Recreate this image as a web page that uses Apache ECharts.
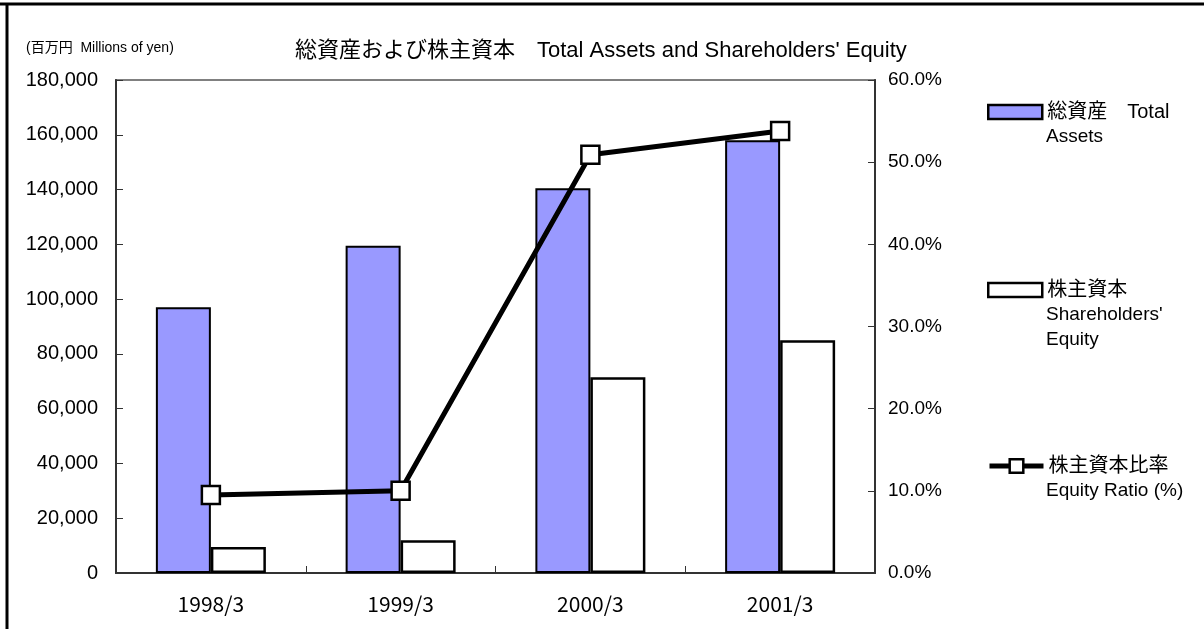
<!DOCTYPE html>
<html>
<head>
<meta charset="utf-8">
<script src="https://cdn.jsdelivr.net/npm/echarts@6/dist/echarts.min.js"></script>
<style>
    html,body{margin:0;padding:0;background:#fff;}
    #chart{width:1204px;height:629px;}
</style>
</head>
<body>
<div id="chart"></div>
<script>
// 年度
const categories = ["1998/3", "1999/3", "2000/3", "2001/3"];
// 総資産（百万円）
const totalAssets = [97000, 119500, 140500, 158000];
// 株主資本（百万円）
const equity = [9500, 12000, 71500, 85000];
// 株主資本比率（%）
const equityRatio = [9.5, 10.0, 50.9, 53.8];
// 凡例の名前（1行目は凡例、2行目以降はテキストで追加）
const names = ["総資産　Total\nAssets", "株主資本\nShareholders'\nEquity", "株主資本比率\nEquity Ratio (%)"];

const mix = '"Liberation Sans", "Noto Sans CJK JP", sans-serif';
const jp = '"Noto Sans CJK JP", sans-serif';

let chart = echarts.init(document.getElementById("chart"));

// 凡例アイコン中心のy
const legendCenters = [112, 290, 466];
let extraLines = [];
names.forEach((n, i) => {
    n.split("\n").slice(1).forEach((t, j) => {
        extraLines.push({
            type: "text",
            x: 1046,
            y: legendCenters[i] + 25 * (j + 1),
            style: {text: t, font: "19px " + mix, fill: "#000", verticalAlign: "middle"}
        });
    });
});

let legends = names.map((n, i) => {
    let isLine = i === 2;
    return {
        data: [n],
        left: 987,
        top: legendCenters[i] - 11,
        padding: 0,
        itemWidth: 54,
        itemHeight: isLine ? 17 : 14,
        itemGap: 5,
        icon: isLine ? undefined : "rect",
        itemStyle: {borderWidth: 2.5},
        lineStyle: {width: 5},
        formatter: name => name.split("\n")[0],
        textStyle: {fontSize: 20, lineHeight: 22, color: "#000", fontFamily: mix}
    };
});

let option = {
    animation: false,
    backgroundColor: "#fff",
    title: [{
        text: "総資産および株主資本　Total Assets and Shareholders' Equity",
        left: 290,
        top: 35,
        textStyle: {fontSize: 22, fontWeight: "normal", color: "#000", fontFamily: mix}
    }, {
        text: "(百万円  Millions of yen)",
        left: 21,
        top: 36,
        textStyle: {fontSize: 14, fontWeight: "normal", color: "#000", fontFamily: mix}
    }],
    legend: legends,
    graphic: [
        // 外枠
        {type: "line", shape: {x1: 0, y1: 4, x2: 1204, y2: 4}, style: {stroke: "#000", lineWidth: 3}},
        {type: "line", shape: {x1: 7, y1: 3, x2: 7, y2: 629}, style: {stroke: "#000", lineWidth: 3}}
    ].concat(extraLines),
    grid: {
        left: 116,
        right: 329,
        top: 80,
        bottom: 56,
        show: true,
        borderColor: "#808080",
        borderWidth: 2
    },
    xAxis: {
        type: "category",
        data: categories,
        axisLine: {lineStyle: {color: "#333", width: 2}},
        axisTick: {show: true, inside: true, length: 7, lineStyle: {color: "#333"}},
        axisLabel: {fontSize: 21, color: "#000", fontFamily: jp, margin: 21}
    },
    yAxis: [{
        type: "value",
        min: 0,
        max: 180000,
        interval: 20000,
        splitLine: {show: false},
        axisLine: {show: true, lineStyle: {color: "#333", width: 2}},
        axisTick: {show: true, inside: true, length: 7, lineStyle: {color: "#333"}},
        axisLabel: {
            fontSize: 20, color: "#000", fontFamily: mix, margin: 18,
            formatter: v => v.toLocaleString("en-US")
        }
    }, {
        type: "value",
        min: 0,
        max: 60,
        interval: 10,
        splitLine: {show: false},
        axisLine: {show: true, lineStyle: {color: "#333", width: 2}},
        axisTick: {show: true, inside: true, length: 7, lineStyle: {color: "#333"}},
        axisLabel: {
            fontSize: 19, color: "#000", fontFamily: mix, margin: 13,
            formatter: v => v.toFixed(1) + "%"
        }
    }],
    series: [{
        name: names[0],
        type: "bar",
        barWidth: 55,
        barGap: "0%",
        itemStyle: {color: "#9999FF", borderColor: "#000", borderWidth: 2},
        data: totalAssets
    }, {
        name: names[1],
        type: "bar",
        barWidth: 55,
        barGap: "0%",
        itemStyle: {color: "#fff", borderColor: "#000", borderWidth: 2.5},
        data: equity
    }, {
        name: names[2],
        type: "line",
        yAxisIndex: 1,
        symbol: "rect",
        symbolSize: 18,
        lineStyle: {color: "#000", width: 5},
        itemStyle: {color: "#fff", borderColor: "#000", borderWidth: 2.5},
        z: 5,
        data: equityRatio
    }]
};
chart.setOption(option);
</script>
</body>
</html>
